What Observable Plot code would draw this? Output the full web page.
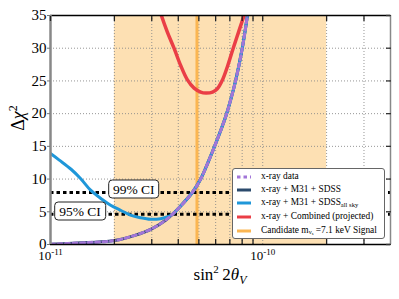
<!DOCTYPE html>
<html><head><meta charset="utf-8">
<script src="https://cdn.jsdelivr.net/npm/d3@7"></script>
<script src="https://cdn.jsdelivr.net/npm/@observablehq/plot@0.6"></script>
<style>
body{margin:0;background:#fff;}
#wrap{position:relative;width:399px;height:299px;font-family:'Liberation Serif','Times New Roman',serif;color:#000;}
#wrap svg text{font-family:'Liberation Serif','Times New Roman',serif !important;}
.ci{position:absolute;background:#fff;border:1px solid #222;border-radius:4px;font-size:13.5px;line-height:17px;padding:0 4px;white-space:nowrap;transform:translate(-50%,-50%);}
#legend{position:absolute;left:232px;top:168px;width:153px;height:71px;background:#fff;border:1px solid #666;border-radius:3px;box-sizing:border-box;font-size:9.4px;}
.row{position:absolute;left:0;height:13px;line-height:13px;white-space:nowrap;}
.row svg{position:absolute;left:3px;top:4px;}
.row span{position:absolute;left:28px;top:0;}
sub{font-size:70%;line-height:0;vertical-align:-0.25em;}
</style></head><body><div id="wrap"></div>
<script>
// ---- data ----
const xDomain = [1e-11, 4e-10];
const yDomain = [0, 35];
const yTicks = [0, 5, 10, 15, 20, 25, 30, 35];
const yGrid = [5, 10, 15, 20, 25, 30];
const xMajor = [1e-11, 1e-10];
const xMajorLabels = ["-11", "-10"];
const xMinor = [2e-11, 3e-11, 4e-11, 5e-11, 6e-11, 7e-11, 8e-11, 9e-11, 2e-10, 3e-10];
const xGrid = [2e-11, 3e-11, 4e-11, 5e-11, 6e-11, 7e-11, 8e-11, 9e-11, 1e-10, 2e-10, 3e-10];
const bandStart = 2e-11, bandEnd = 2e-10;
const candidate = [4.9e-11];
const ciLevels = [7.95, 4.63];
const ciLabels = ["99% CI", "95% CI"];
const ciLabelX = [2.48e-11, 1.385e-11];

// x-ray data (same as x-ray + M31 + SDSS)
const xraySin = [1.0e-11, 1.5e-11, 2.0e-11, 2.5e-11, 3.0e-11, 3.5e-11, 3.75e-11, 4.0e-11, 4.66e-11, 5.1e-11, 5.5e-11, 6.1e-11, 6.7e-11, 7.06e-11, 7.46e-11, 8.02e-11, 8.47e-11, 8.9e-11];
const xrayChi = [0.05, 0.3, 0.6, 1.4, 2.4, 3.75, 4.6, 5.5, 7.95, 10, 12.4, 16, 19.6, 22.1, 25.1, 30.1, 35, 40];
// x-ray + M31 + SDSS all sky
const allSin = [1.0e-11, 1.1e-11, 1.25e-11, 1.385e-11, 1.545e-11, 1.75e-11, 1.92e-11, 2.15e-11, 2.38e-11, 2.65e-11, 2.96e-11, 3.3e-11, 3.6e-11, 3.75e-11, 4.0e-11, 4.66e-11, 5.1e-11, 5.5e-11, 6.1e-11, 6.7e-11, 7.06e-11, 7.46e-11, 8.02e-11, 8.47e-11, 8.9e-11];
const allChi = [13.9, 12.9, 11.5, 10.1, 8.3, 6.9, 6.0, 5.2, 4.5, 4.1, 3.85, 3.95, 4.3, 4.6, 5.5, 7.95, 10, 12.4, 16, 19.6, 22.1, 25.1, 30.1, 35, 40];
// x-ray + Combined (projected)
const redSin = [3.15e-11, 3.33e-11, 3.55e-11, 3.82e-11, 4.1e-11, 4.41e-11, 4.75e-11, 5.1e-11, 5.4e-11, 5.8e-11, 6.11e-11, 6.45e-11, 6.85e-11, 7.26e-11, 7.7e-11, 8.16e-11, 8.5e-11];
const redChi = [37.5, 35, 32.5, 30, 27.4, 25.2, 23.9, 23.3, 23.15, 23.3, 23.8, 25.1, 27.4, 30, 32.5, 35, 37];

const legendLabels = ["x-ray data", "x-ray + M31 + SDSS", "x-ray + M31 + SDSS<sub>all sky</sub>", "x-ray + Combined (projected)", "Candidate m<sub>ν<sub>s</sub></sub> =7.1 keV Signal"];

// ---- styles ----
const C = {band: "#fde0b3", cand: "#fbb652", purple: "#a276d8", navy: "#2b4a6c", blue: "#1f97d9", red: "#ea3e46"};
const legendStyles = [
  {stroke: C.purple, dash: "3.5,3"}, {stroke: C.navy}, {stroke: C.blue}, {stroke: C.red}, {stroke: C.cand}
];
const legendRowY = [0.5, 13.8, 27.3, 41, 54.5];

const toRows = (xs, ys) => xs.map((s, i) => ({s, c: ys[i]}));
const xray = toRows(xraySin, xrayChi);
const allsky = toRows(allSin, allChi);
const red = toRows(redSin, redChi);
const curve = "catmull-rom";
const FONT = "'Liberation Serif','Times New Roman',serif";

const plot = Plot.plot({
  width: 399, height: 299,
  marginLeft: 50, marginRight: 9, marginTop: 15, marginBottom: 55,
  style: {fontFamily: FONT, fontSize: "15px", color: "#000", background: "#fff", overflow: "visible"},
  x: {type: "log", domain: xDomain},
  y: {domain: yDomain},
  marks: [
    Plot.rect([[bandStart, bandEnd]], {x1: d => d[0], x2: d => d[1], fill: C.band}),
    Plot.ruleX(xGrid, {stroke: "#8a8a8a", strokeWidth: 0.9, strokeDasharray: "1,2"}),
    Plot.ruleY(yGrid, {stroke: "#8a8a8a", strokeWidth: 0.9, strokeDasharray: "1,2"}),
    Plot.ruleX(candidate, {stroke: C.cand, strokeWidth: 3}),
    Plot.ruleY(ciLevels, {stroke: "#000", strokeWidth: 3, strokeDasharray: "3.5,3"}),
    Plot.line(xray, {x: "s", y: "c", stroke: C.navy, strokeWidth: 3, curve, clip: true}),
    Plot.line(allsky, {x: "s", y: "c", stroke: C.blue, strokeWidth: 3, curve, clip: true}),
    Plot.line(xray, {x: "s", y: "c", stroke: C.purple, strokeWidth: 3, strokeDasharray: "4,3.5", curve, clip: true}),
    Plot.line(red, {x: "s", y: "c", stroke: C.red, strokeWidth: 3.5, curve, clip: true}),
    // frame
    Plot.ruleX([xDomain[1]], {stroke: "#888", strokeWidth: 1.5}),
    Plot.ruleY([yDomain[1]], {stroke: "#000", strokeWidth: 1.5}),
    Plot.ruleY([yDomain[0]], {stroke: "#000", strokeWidth: 1.5}),
    Plot.ruleX([xDomain[0]], {stroke: "#888", strokeWidth: 2.5}),
    // axes (inward ticks via offsets)
    Plot.axisY({anchor: "left", ticks: yTicks, tickSize: 3, tickPadding: 1, label: null, stroke: "#777", fontSize: 15}),
    Plot.axisY({anchor: "right", ticks: yTicks, tickSize: 5, dx: -5, tickFormat: () => "", label: null, stroke: "#333", strokeWidth: 1.3}),
    Plot.axisX({anchor: "top", ticks: [...xMajor, ...xMinor], tickSize: 5, dy: 5, tickFormat: () => "", label: null, stroke: "#222", strokeWidth: 1.3}),
    Plot.axisX({anchor: "bottom", ticks: xMinor, tickSize: 5, dy: -5, tickFormat: () => "", label: null, stroke: "#222", strokeWidth: 1.3}),
    Plot.axisX({anchor: "bottom", ticks: xMajor, tickSize: 0, tickPadding: 6, tickFormat: d => "10|" + xMajorLabels[xMajor.indexOf(d)], label: null, fontSize: 13})
  ]
});

const wrap = document.getElementById("wrap");
wrap.appendChild(plot);
const svg = d3.select(plot);

// superscript exponents on decade labels
svg.selectAll("text").each(function() {
  const t = this.textContent;
  if (t.startsWith("10|")) {
    const exp = t.split("|")[1];
    const el = d3.select(this);
    el.text("10");
    el.append("tspan").attr("dy", "-0.5em").attr("font-size", "9px").text(exp);
  }
});

// axis titles
const yt = svg.append("text").attr("transform", "translate(24,118) rotate(-90)").attr("text-anchor", "middle").attr("font-size", 18);
yt.append("tspan").text("Δ");
yt.append("tspan").attr("font-style", "italic").text("χ");
yt.append("tspan").attr("dy", -7).attr("font-size", 12).text("2");

const xt = svg.append("text").attr("x", 220).attr("y", 280).attr("text-anchor", "middle").attr("font-size", 17);
xt.append("tspan").text("sin");
xt.append("tspan").attr("dy", -7).attr("font-size", 11).text("2");
xt.append("tspan").attr("dy", 7).text("\u2009" + "2");
xt.append("tspan").attr("font-style", "italic").text("θ");
xt.append("tspan").attr("dy", 4).attr("font-size", 12).attr("font-style", "italic").text("V");

svg.selectAll("text").style("font-family", FONT);

// CI labels anchored through the scales
const sx = plot.scale("x"), sy = plot.scale("y");
ciLabels.forEach((lab, i) => {
  const d = document.createElement("div");
  d.className = "ci";
  d.textContent = lab;
  d.style.left = sx.apply(ciLabelX[i]) + "px";
  d.style.top = (sy.apply(ciLevels[i]) - 2.5) + "px";
  wrap.appendChild(d);
});

// legend
const lg = document.createElement("div");
lg.id = "legend";
legendLabels.forEach((lab, i) => {
  const r = document.createElement("div");
  r.className = "row";
  r.style.top = legendRowY[i] + "px";
  const st = legendStyles[i];
  r.innerHTML = `<svg width="16" height="6"><line x1="1" x2="15" y1="3" y2="3" stroke="${st.stroke}" stroke-width="3" ${st.dash ? `stroke-dasharray="${st.dash}"` : ""}/></svg><span>${lab}</span>`;
  lg.appendChild(r);
});
wrap.appendChild(lg);
</script>
</body></html>
